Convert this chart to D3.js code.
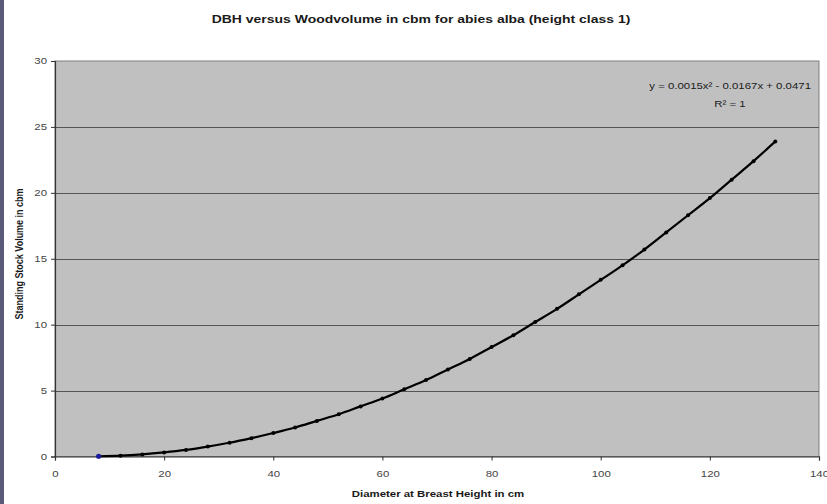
<!DOCTYPE html>
<html>
<head>
<meta charset="utf-8">
<script src="https://cdn.jsdelivr.net/npm/d3@7/dist/d3.min.js"></script>
<style>
  html, body { margin: 0; padding: 0; background: #fff; }
  svg { display: block; font-family: Arial, "Liberation Sans", sans-serif; }
</style>
</head>
<body>
<svg id="chart" width="827" height="504"></svg>
<script>
// Data
const dbh = [8, 12, 16, 20, 24, 28, 32, 36, 40, 44, 48, 52, 56, 60, 64, 68, 72, 76, 80, 84, 88, 92, 96, 100, 104, 108, 112, 116, 120, 124, 128, 132];
const volume = [0.02, 0.06, 0.16, 0.31, 0.5, 0.75, 1.04, 1.39, 1.78, 2.2, 2.7, 3.2, 3.8, 4.4, 5.1, 5.8, 6.6, 7.4, 8.3, 9.2, 10.2, 11.2, 12.3, 13.4, 14.5, 15.7, 17.0, 18.3, 19.6, 21.0, 22.4, 23.9];
const xTicks = [0, 20, 40, 60, 80, 100, 120, 140];
const yTicks = [0, 5, 10, 15, 20, 25, 30];
const titleText = "DBH versus Woodvolume in cbm for abies alba (height class 1)";
const xTitle = "Diameter at Breast Height in cm";
const yTitle = "Standing Stock Volume in cbm";
const equation = ["y = 0.0015x\u00B2 - 0.0167x + 0.0471", "R\u00B2 = 1"];

const svg = d3.select("#chart");
const pLeft = 55, pRight = 819, pTop = 61, pBottom = 456.5;
const SX = 1.27; // horizontal stretch of the original picture's text

const x = d3.scaleLinear().domain([0, 140]).range([pLeft, pRight]);
const y = d3.scaleLinear().domain([0, 30]).range([pBottom, pTop]);

// left image strip artifact
svg.append("rect").attr("x", 0).attr("y", 0).attr("width", 4).attr("height", 504).attr("fill", "#5a5a78");

// plot area
svg.append("rect")
  .attr("x", pLeft).attr("y", pTop)
  .attr("width", pRight - pLeft).attr("height", pBottom - pTop)
  .attr("fill", "#c0c0c0").attr("stroke", "#808080").attr("stroke-width", 1);

// gridlines
svg.append("g").selectAll("line")
  .data(yTicks.filter(d => d > 0 && d < 30))
  .join("line")
  .attr("x1", pLeft).attr("x2", pRight)
  .attr("y1", d => Math.round(y(d)) + 0.5).attr("y2", d => Math.round(y(d)) + 0.5)
  .attr("stroke", "#555").attr("stroke-width", 1.2);

// axes
const xAxis = svg.append("g")
  .attr("transform", `translate(0,${pBottom})`)
  .call(d3.axisBottom(x).tickValues(xTicks).tickSize(4).tickPadding(10).tickFormat(d3.format("d")));
const yAxis = svg.append("g")
  .attr("transform", `translate(${pLeft},0)`)
  .call(d3.axisLeft(y).tickValues(yTicks).tickSize(4).tickPadding(4).tickFormat(d3.format("d")));
[xAxis, yAxis].forEach(g => {
  g.select(".domain").attr("stroke", "#333").attr("stroke-width", 1.2);
  g.selectAll(".tick line").attr("stroke", "#333");
  g.selectAll(".tick text").attr("fill", "#444").style("font-size", "9px").style("font-family", "Arial, 'Liberation Sans', sans-serif");
});
xAxis.selectAll(".tick text").attr("transform", `scale(${SX},1)`);
yAxis.selectAll(".tick text").attr("x", 0).attr("transform", `translate(-8,0) scale(${SX},1)`);

// line
const pts = dbh.map((d, i) => [d, volume[i]]);
svg.append("path")
  .datum(pts)
  .attr("fill", "none")
  .attr("stroke", "#000")
  .attr("stroke-width", 2.2)
  .attr("d", d3.line().x(d => x(d[0])).y(d => y(d[1])).curve(d3.curveMonotoneX));

// markers
svg.append("g").selectAll("circle")
  .data(pts)
  .join("circle")
  .attr("cx", d => x(d[0])).attr("cy", d => y(d[1]))
  .attr("r", (d, i) => i === 0 ? 2.6 : 2)
  .attr("fill", (d, i) => i === 0 ? "#1a1a9a" : "#000");

function stretchedText(tx, ty, str, size, weight, anchor, extra) {
  return svg.append("text")
    .attr("transform", `translate(${tx},${ty}) scale(${SX},1)` + (extra || ""))
    .attr("text-anchor", anchor)
    .style("font-size", size + "px").style("font-weight", weight).attr("fill", "#1a1a1a")
    .text(str);
}

// title
stretchedText(421, 23, titleText, 11, "bold", "middle");

// axis titles
stretchedText(438, 497, xTitle, 9, "bold", "middle");
stretchedText(23, 254, yTitle, 9, "bold", "middle", " rotate(-90)");

// trendline equation
stretchedText(811, 89, equation[0], 9, "normal", "end");
stretchedText(730, 107, equation[1], 9, "normal", "middle");
</script>
</body>
</html>
